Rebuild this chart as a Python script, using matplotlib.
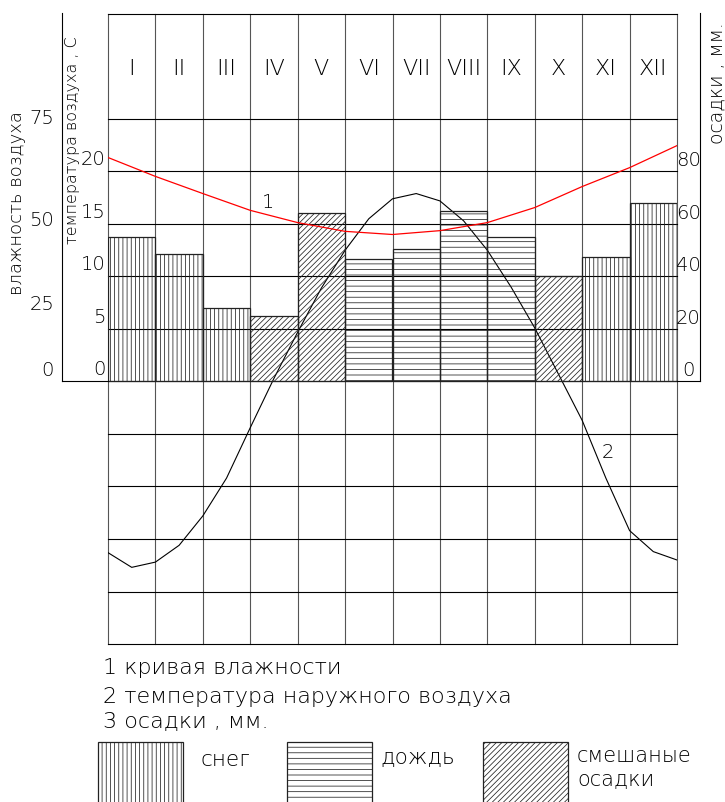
import numpy as np
import matplotlib
matplotlib.use('Agg')
import matplotlib.pyplot as plt
from matplotlib.patches import Rectangle

months = ['I', 'II', 'III', 'IV', 'V', 'VI', 'VII', 'VIII', 'IX', 'X', 'XI', 'XII']
# monthly precipitation, mm, and what kind it is
precip = [55, 48.5, 28, 25, 64, 46.5, 50.5, 65, 55, 40, 47.5, 68]
precip_kind = ['snow', 'snow', 'snow', 'mixed', 'mixed', 'rain',
               'rain', 'rain', 'rain', 'mixed', 'snow', 'snow']
# humidity, %, read at month boundaries
hum_x = np.arange(13)
humidity = [64.0, 58.6, 53.7, 48.9, 45.4, 42.9, 42.0, 43.1, 45.4, 49.7, 55.7, 61.1, 67.4]
# outside air temperature, C, read every half month
temp_x = np.arange(25) / 2
temperature = [-16.3, -17.7, -17.2, -15.6, -12.8, -9.2, -4.4, 0.3, 4.7, 8.9, 12.5, 15.5,
               17.4, 17.9, 17.2, 15.3, 12.5, 9.0, 5.1, 0.7, -3.7, -9.2, -14.2, -16.2, -17.0]

temp_ticks = [0, 5, 10, 15, 20]
precip_ticks = [0, 20, 40, 60, 80]
hum_ticks = [0, 25, 50, 75]
hum_tick_pos = [3, 22, 46, 75]   # where the labels sit on the sheet

HATCH = {'snow': '||||', 'rain': '---', 'mixed': '//////'}
FONT = dict(family='DejaVu Sans', fontweight='light')


def main():
    plt.rcParams['hatch.linewidth'] = 0.55
    fig = plt.figure(figsize=(7.25, 8.02), dpi=100)
    W, H = 725, 802

    ax = fig.add_axes([108 / W, 1 - 644 / H, 569 / W, 630 / H])
    ax.set_xlim(0, 12)
    ax.set_ylim(-25, 35)
    ax.axis('off')
    axp = ax.twinx()
    axp.set_ylim(-100, 140)
    axp.axis('off')
    axh = ax.twinx()
    axh.set_ylim(-75, 105)
    axh.axis('off')

    # grid
    for i in range(13):
        ax.axvline(i, color='#555555', lw=0.8, clip_on=False)
    for y in list(range(-25, 26, 5)) + [35]:
        ax.axhline(y, color='black', lw=0.8, clip_on=False)

    # side frames for the scales
    for rect, sides in [([62 / W, 1 - 381 / H, 46 / W, 368 / H], ['left', 'bottom']),
                        ([677 / W, 1 - 381 / H, 23 / W, 368 / H], ['right', 'bottom'])]:
        fr = fig.add_axes(rect)
        fr.patch.set_visible(False)
        fr.set_xticks([])
        fr.set_yticks([])
        for s in fr.spines:
            fr.spines[s].set_visible(s in sides)
            fr.spines[s].set_linewidth(0.8)

    # precipitation bars
    for i, (v, k) in enumerate(zip(precip, precip_kind)):
        axp.bar(i + 0.5, v, width=1, facecolor='none', edgecolor='#222222',
                hatch=HATCH[k], lw=0.9)

    axh.plot(hum_x, humidity, color='red', lw=0.9)
    ax.plot(temp_x, temperature, color='black', lw=0.8)
    ax.text(3.37, 17.0, '1', fontsize=14, ha='center', va='center', **FONT)
    ax.text(10.54, -6.8, '2', fontsize=14, ha='center', va='center', **FONT)

    for i, m in enumerate(months):
        ax.text(i + 0.5, 29.8, m, fontsize=16, ha='center', va='center', **FONT)

    for t in temp_ticks:
        ax.text(-0.06, t + 0.2, str(t), fontsize=14, ha='right', va='bottom', clip_on=False, **FONT)
    for h, p in zip(hum_ticks, hum_tick_pos):
        axh.text(-1.14, p, str(h), fontsize=14, ha='right', va='center', clip_on=False, **FONT)
    for p in precip_ticks:
        axp.text(12.24, p + 0.5, str(p), fontsize=14, ha='center', va='bottom', clip_on=False, **FONT)

    fig.text(17 / W, 1 - 203 / H, 'влажность воздуха', rotation=90, fontsize=13,
             ha='center', va='center', **FONT)
    fig.text(72 / W, 1 - 140 / H, 'температура воздуха , С', rotation=90, fontsize=11.5,
             ha='center', va='center', **FONT)
    fig.text(717 / W, 1 - 83 / H, 'осадки , мм.', rotation=90, fontsize=13.5,
             ha='center', va='center', **FONT)

    # legend
    fig.text(103 / W, 1 - 668 / H, '1 кривая влажности', fontsize=16, va='center', **FONT)
    fig.text(103 / W, 1 - 697 / H, '2 температура наружного воздуха', fontsize=16, va='center', **FONT)
    fig.text(103 / W, 1 - 722 / H, '3 осадки , мм.', fontsize=16, va='center', **FONT)
    for x0, k in [(98, 'snow'), (287, 'rain'), (483, 'mixed')]:
        fig.add_artist(Rectangle((x0 / W, -0.01), 85 / W, 1 - 742 / H + 0.01,
                                 transform=fig.transFigure, fill=False,
                                 edgecolor='#222222', hatch=HATCH[k], lw=0.9))
    fig.text(200 / W, 1 - 760 / H, 'снег', fontsize=15.5, va='center', **FONT)
    fig.text(380 / W, 1 - 758 / H, 'дождь', fontsize=15.5, va='center', **FONT)
    fig.text(577 / W, 1 - 756 / H, 'смешаные', fontsize=15, va='center', **FONT)
    fig.text(577 / W, 1 - 780 / H, 'осадки', fontsize=15, va='center', **FONT)

    fig.savefig('out.png', dpi=100)


if __name__ == "__main__":
    main()
